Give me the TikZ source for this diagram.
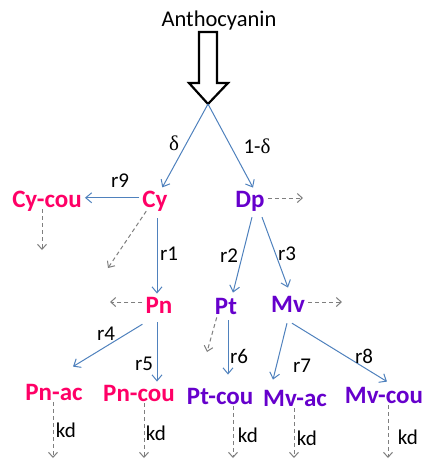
\documentclass[tikz,border=0pt]{standalone}
\usepackage{fontspec}
\setmainfont{Carlito}
\newfontfamily\grkfont{Liberation Serif}
\usetikzlibrary{arrows.meta}
\definecolor{cyred}{HTML}{FF0066}
\definecolor{dpviolet}{HTML}{6600CC}
\definecolor{rxblue}{HTML}{4F81BD}
\definecolor{lossgray}{HTML}{7F7F7F}

\begin{document}
\begin{tikzpicture}[x=1pt, y=-1pt,
  cyname/.style={anchor=base, inner sep=3pt, text=cyred, font=\fontsize{25}{25}\selectfont\bfseries},
  dpname/.style={anchor=base, inner sep=3pt, text=dpviolet, font=\fontsize{25}{25}\selectfont\bfseries},
  rate/.style={anchor=base, inner sep=0pt, font=\fontsize{21}{21}\selectfont},
  rx/.style={draw=rxblue, line width=1pt, -{Straight Barb[length=6pt,width=10pt]}},
  loss/.style={draw=lossgray, line width=1pt, dash pattern=on 4pt off 3pt, -{Straight Barb[length=5pt,width=9pt]}}]
  \useasboundingbox (0,0) rectangle (426,459);
  % source
  \node[anchor=base, inner sep=0pt, font=\fontsize{22.5}{22.5}\selectfont] (antho) at (219,26) {Anthocyanin};
  \draw[line width=2.2pt, fill=white] (199,32) -- (217,32) -- (217,83) -- (228,83) -- (208,104)
    -- (189,83) -- (199,83) -- cycle;
  \coordinate (tip) at (208,104);
  % pigments
  \node[cyname] (cycou) at (47,207) {Cy-cou};
  \node[cyname] (cy) at (155,207) {Cy};
  \node[dpname] (dp) at (250,207) {Dp};
  \node[cyname] (pn) at (159,313) {Pn};
  \node[dpname] (pt) at (226,314) {Pt};
  \node[dpname] (mv) at (288,312) {Mv};
  \node[cyname] (pnac) at (54,400) {Pn-ac};
  \node[cyname] (pncou) at (139,401) {Pn-cou};
  \node[dpname] (ptcou) at (220,404) {Pt-cou};
  \node[dpname] (mvac) at (295,406) {Mv-ac};
  \node[dpname] (mvcou) at (384,403) {Mv-cou};
  % reactions
  \draw[rx] (tip) -- (cy);
  \draw[rx] (tip) -- ([xshift=3pt]dp.north);
  \draw[rx] ([yshift=3pt]cy.west) -- ([yshift=3pt]cycou.east);
  \draw[rx, shorten <=4pt] ([xshift=2pt]cy.south) -- ([xshift=-2pt]pn.north);
  \draw[rx] ([xshift=2pt,yshift=-3pt]dp.south) -- ([xshift=7pt,yshift=2pt]pt.north);
  \draw[rx] ([xshift=12pt,yshift=-3pt]dp.south) -- ([yshift=5pt]mv.north);
  \draw[rx] ([yshift=-8pt]pn.south west) -- ([xshift=19pt,yshift=14pt]pnac.north);
  \draw[rx] ([xshift=-2pt,yshift=-6pt]pn.south) -- ([xshift=18pt]pncou.north);
  \draw[rx] ([xshift=2pt,yshift=-3pt]pt.south) -- ([xshift=8pt,yshift=10pt]ptcou.north);
  \draw[rx] ([xshift=-1pt,yshift=-8pt]mv.south) -- ([xshift=-22pt,yshift=7pt]mvac.north);
  \draw[rx] ([xshift=4pt,yshift=-8pt]mv.south) -- ([xshift=3pt,yshift=2pt]mvcou.north);
  % degradation
  \coordinate (cycoulost) at (42,250);
  \coordinate (cylost) at (108,268);
  \coordinate (dplost) at (303,198);
  \coordinate (pnlost) at (110,302);
  \coordinate (ptlost) at (207,352);
  \coordinate (mvlost) at (342,302);
  \draw[loss] ([yshift=5pt]cycoulost |- cycou.south) -- (cycoulost);
  \draw[loss] ([xshift=7pt,yshift=3pt]cy.south west) -- (cylost);
  \draw[loss] (dp.east |- dplost) -- (dplost);
  \draw[loss] (pn.west |- pnlost) -- (pnlost);
  \draw[loss] ([xshift=5pt]pt.south west) -- (ptlost);
  \draw[loss] (mv.east |- mvlost) -- (mvlost);
  \foreach \sp/\x in {pnac/53, pncou/144, ptcou/233, mvac/294, mvcou/388} {
    \coordinate (\sp lost) at (\x,458);
    \draw[loss] ([yshift=1pt]\sp lost |- \sp.south) -- (\sp lost);
  }
  % rate labels
  \node[rate] (delta) at (174,150) {\grkfont δ};
  \node[rate] (onedelta) at (257,153) {1-{\grkfont δ}};
  \node[rate] (r9) at (120,187) {r9};
  \node[rate] (r1) at (169,260) {r1};
  \node[rate] (r2) at (229,262) {r2};
  \node[rate] (r3) at (287,260) {r3};
  \node[rate] (r4) at (106,340) {r4};
  \node[rate] (r5) at (144,370) {r5};
  \node[rate] (r6) at (239,363) {r6};
  \node[rate] (r7) at (302,372) {r7};
  \node[rate] (r8) at (364,363) {r8};
  \node[rate] (kd1) at (66,437) {kd};
  \node[rate] (kd2) at (156,440) {kd};
  \node[rate] (kd3) at (248,442) {kd};
  \node[rate] (kd4) at (307,445) {kd};
  \node[rate] (kd5) at (408,444) {kd};
\end{tikzpicture}
\end{document}
